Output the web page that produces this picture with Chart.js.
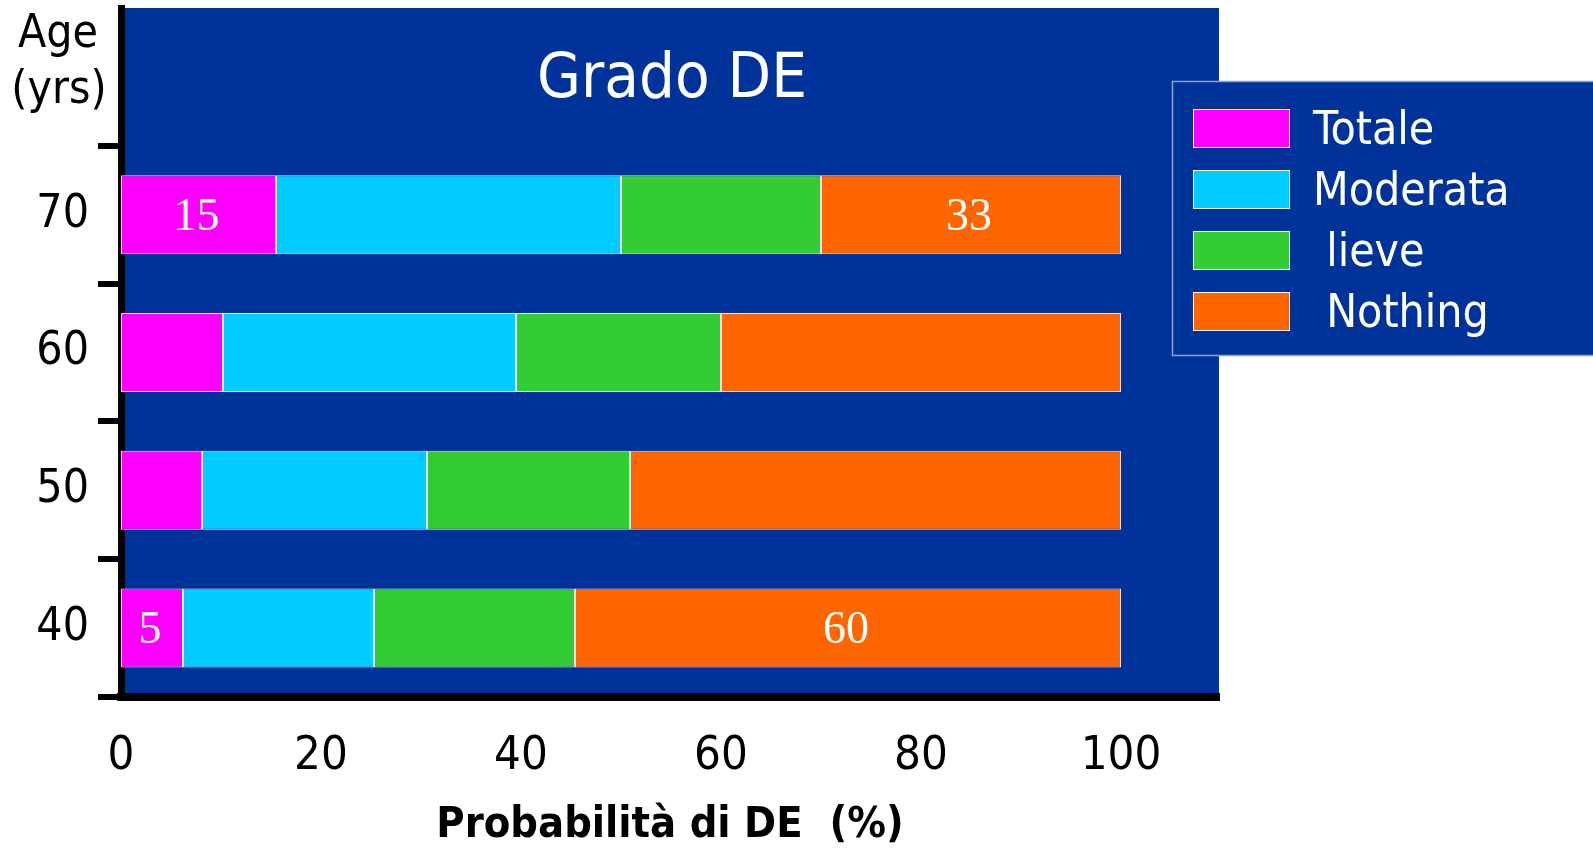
<!DOCTYPE html>
<html><head><meta charset="utf-8">
<script src="https://cdn.jsdelivr.net/npm/chart.js@4/dist/chart.umd.min.js"></script>
<style>html,body{margin:0;padding:0;background:#fff;overflow:hidden}#wrap{width:1593px;height:849px;position:relative}</style>
</head><body><div id="wrap"><canvas id="c" width="1593" height="849"></canvas></div>
<script>
// ---- data ----
const categories = ['70', '60', '50', '40'];
const seriesNames = ['Totale', 'Moderata', ' lieve', ' Nothing'];
const totale   = [15.5, 10.2, 8.1, 6.2];
const moderata = [34.5, 29.3, 22.5, 19.1];
const lieve    = [20.0, 20.5, 20.3, 20.1];
const nothing  = [30.0, 40.0, 49.1, 54.6];
const totaleLabels  = ['15', '', '', '5'];
const nothingLabels = ['33', '', '', '60'];
const xTicks = [0, 20, 40, 60, 80, 100];
const chartTitle = 'Grado DE';
const yTitleLines = ['Age', '(yrs)'];
const xTitle = 'Probabilità di DE  (%)';

// ---- styles ----
const FONT = "'DejaVu Sans Condensed','DejaVu Sans',sans-serif";
const SERIF = "'Liberation Serif','DejaVu Serif',serif";
const colors = ['#FF00FF', '#00CCFF', '#33CC33', '#FF6600'];
const BG = '#003399';

const seriesValues = [totale, moderata, lieve, nothing];
const barLabels = [totaleLabels, null, null, nothingLabels];

const deco = {
  id: 'deco',
  beforeDraw(chart) {
    const {ctx, chartArea: a} = chart;
    ctx.save();
    ctx.fillStyle = BG;
    ctx.fillRect(a.left, a.top, a.right - a.left, a.bottom - a.top);
    ctx.restore();
  },
  afterDatasetsDraw(chart) {
    const ctx = chart.ctx;
    ctx.save();
    ctx.fillStyle = '#fff';
    ctx.font = '46px ' + SERIF;
    ctx.textAlign = 'center';
    ctx.textBaseline = 'middle';
    chart.data.datasets.forEach((ds, di) => {
      const labs = barLabels[di];
      if (!labs) return;
      const meta = chart.getDatasetMeta(di);
      labs.forEach((t, i) => {
        if (!t) return;
        const el = meta.data[i + 1];
        ctx.fillText(t, (el.x + el.base) / 2 - 2, el.y + 3);
      });
    });
    ctx.restore();
  },
  afterDraw(chart) {
    const {ctx, chartArea: a} = chart;
    ctx.save();
    // title inside plot
    ctx.fillStyle = '#fff';
    ctx.font = '63px ' + FONT;
    ctx.textAlign = 'center';
    ctx.textBaseline = 'alphabetic';
    ctx.fillText(chartTitle, (a.left + a.right) / 2 + 2, a.top + 89);
    // Age (yrs)
    ctx.fillStyle = '#000';
    ctx.font = '46px ' + FONT;
    ctx.fillText(yTitleLines[0], 58, 47);
    ctx.fillText(yTitleLines[1], 59, 103);
    // legend
    const lx = 1172.5, ly = 81.5;
    ctx.fillStyle = BG;
    ctx.fillRect(lx, ly, 440, 274);
    ctx.strokeStyle = '#8fa0d2';
    ctx.lineWidth = 1.5;
    ctx.strokeRect(lx, ly, 440, 274);
    ctx.font = '46px ' + FONT;
    ctx.textAlign = 'left';
    chart.data.datasets.forEach((ds, i) => {
      const sy = 109 + i * 61;
      ctx.fillStyle = ds.backgroundColor;
      ctx.fillRect(1193.5, sy + 0.5, 96, 38);
      ctx.strokeStyle = '#ffffff';
      ctx.lineWidth = 1;
      ctx.strokeRect(1193.5, sy + 0.5, 96, 38);
      ctx.fillStyle = '#fff';
      ctx.fillText(ds.label, 1313, sy + 19 + 16);
    });
    ctx.restore();
  }
};

const datasets = seriesNames.map((name, i) => ({
  label: name,
  data: [null].concat(seriesValues[i]),
  backgroundColor: colors[i],
  borderColor: 'rgba(235,235,245,0.95)',
  borderWidth: 1,
  borderSkipped: false,
  barPercentage: 0.573,
  categoryPercentage: 1.0
}));

new Chart(document.getElementById('c'), {
  type: 'bar',
  data: { labels: [''].concat(categories), datasets },
  options: {
    indexAxis: 'y',
    responsive: false,
    animation: false,
    devicePixelRatio: 1,
    layout: { padding: { left: 0, top: 8, right: 374, bottom: 0 } },
    plugins: { legend: { display: false }, tooltip: { enabled: false }, title: { display: false } },
    scales: {
      x: {
        stacked: true, min: 0, max: 109.8,
        afterBuildTicks(s) { s.ticks = xTicks.map(v => ({ value: v })); },
        grid: { display: false, drawTicks: false },
        border: { display: true, color: '#000', width: 8 },
        ticks: { color: '#000', font: { family: FONT, size: 47 }, padding: 32, maxRotation: 0, autoSkip: false },
        title: { display: true, text: xTitle, color: '#000', font: { family: FONT, size: 43, weight: 'bold' }, padding: { top: 0, bottom: -3 } },
        afterFit(s) { s.height = 152; }
      },
      y: {
        stacked: true, z: 1,
        grid: {
          offset: true, drawOnChartArea: false, drawTicks: true, tickLength: 23, lineWidth: 6,
          color: (c) => (c.index === 0 ? 'rgba(0,0,0,0)' : '#000')
        },
        border: { display: true, color: '#000', width: 7 },
        ticks: { color: '#000', font: { family: FONT, size: 46 }, padding: 9 },
        afterFit(s) { s.width = 121; s.paddingTop = 0; s.paddingBottom = 0; }
      }
    }
  },
  plugins: [deco]
});
</script>
</body></html>
